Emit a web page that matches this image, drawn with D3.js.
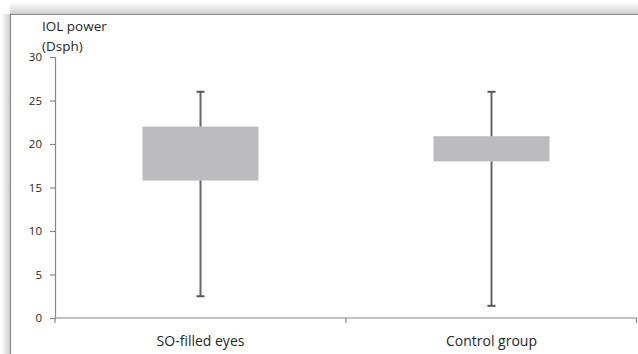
<!DOCTYPE html>
<html>
<head>
<meta charset="utf-8">
<script src="https://cdn.jsdelivr.net/npm/d3@7"></script>
<style>
  body { margin: 0; background: #fff; }
  svg text { font-family: "Open Sans", "DejaVu Sans", sans-serif; fill: #262626; }
</style>
</head>
<body>
<div id="chart"></div>
<script>
// groups and box-plot values
var groups = ["SO-filled eyes", "Control group"];
var whiskerMin = [2.5, 1.4];
var boxLow = [15.8, 18.0];
var boxHigh = [22.0, 20.9];
var whiskerMax = [26.0, 26.0];
var yTicks = [0, 5, 10, 15, 20, 25, 30];

var width = 638, height = 354;
var margin = {left: 55, right: 1, top: 57, bottom: 36};

var svg = d3.select("#chart").append("svg")
    .attr("width", width)
    .attr("height", height);

// drop shadow on top and left edges of the frame
var defs = svg.append("defs");
var gTop = defs.append("linearGradient").attr("id", "shTop")
    .attr("x1", 0).attr("y1", 0).attr("x2", 0).attr("y2", 1);
gTop.append("stop").attr("offset", 0).attr("stop-color", "#fff");
gTop.append("stop").attr("offset", 1).attr("stop-color", "#cfcfcf");
var gLeft = defs.append("linearGradient").attr("id", "shLeft")
    .attr("x1", 0).attr("y1", 0).attr("x2", 1).attr("y2", 0);
gLeft.append("stop").attr("offset", 0).attr("stop-color", "#fff");
gLeft.append("stop").attr("offset", 1).attr("stop-color", "#cfcfcf");

svg.append("rect").attr("x", 10).attr("y", 2).attr("width", width - 10).attr("height", 12)
    .attr("fill", "url(#shTop)");
svg.append("rect").attr("x", 1).attr("y", 14).attr("width", 9).attr("height", height - 14)
    .attr("fill", "url(#shLeft)");
svg.append("path")
    .attr("d", "M10.5," + height + "V14.5H" + width)
    .attr("fill", "none").attr("stroke", "#8a8a8a").attr("stroke-width", 1.2);

var x = d3.scaleBand().domain(groups).range([margin.left, width - margin.right]);
var y = d3.scaleLinear().domain([0, 30]).range([height - margin.bottom, margin.top]);

var boxW = 116, capW = 8;

// y axis
var yAxis = svg.append("g")
    .attr("transform", "translate(" + margin.left + ",0)")
    .call(d3.axisLeft(y).tickValues(yTicks).tickSize(5).tickPadding(8));
yAxis.select(".domain").attr("stroke", "#888").attr("stroke-width", 1.2);
yAxis.selectAll(".tick line").attr("stroke", "#888").attr("stroke-width", 1.2);
yAxis.selectAll(".tick text").style("font-size", "11.5px").attr("fill", "#262626");

// x axis: ticks at category boundaries
var xAxis = svg.append("g")
    .attr("transform", "translate(0," + y(0) + ")");
xAxis.append("line")
    .attr("x1", margin.left).attr("x2", width - margin.right)
    .attr("stroke", "#888").attr("stroke-width", 1.2);
var bounds = groups.map(function(g) { return x(g); }).concat([x(groups[groups.length - 1]) + x.bandwidth()]);
xAxis.selectAll(".xt").data(bounds).enter().append("line")
    .attr("x1", function(d) { return Math.min(d, width - 1.5); })
    .attr("x2", function(d) { return Math.min(d, width - 1.5); })
    .attr("y1", 0).attr("y2", 5)
    .attr("stroke", "#888").attr("stroke-width", 1.2);
xAxis.selectAll(".xl").data(groups).enter().append("text")
    .attr("x", function(d) { return x(d) + x.bandwidth() / 2; })
    .attr("y", 28)
    .attr("text-anchor", "middle")
    .style("font-size", "14px")
    .text(function(d) { return d; });

// y axis title
svg.append("text").attr("x", 42).attr("y", 31).style("font-size", "13.5px").text("IOL power");
svg.append("text").attr("x", 42).attr("y", 51).style("font-size", "13.5px").text("(Dsph)");

// whiskers and boxes
var boxes = svg.selectAll(".box").data(groups).enter().append("g").attr("class", "box");
var cx = function(d) { return x(d) + x.bandwidth() / 2; };

boxes.append("line")
    .attr("x1", cx).attr("x2", cx)
    .attr("y1", function(d, i) { return y(whiskerMax[i]); })
    .attr("y2", function(d, i) { return y(whiskerMin[i]); })
    .attr("stroke", "#666").attr("stroke-width", 2);
boxes.append("line")
    .attr("x1", function(d) { return cx(d) - capW / 2; })
    .attr("x2", function(d) { return cx(d) + capW / 2; })
    .attr("y1", function(d, i) { return y(whiskerMax[i]); })
    .attr("y2", function(d, i) { return y(whiskerMax[i]); })
    .attr("stroke", "#555").attr("stroke-width", 2);
boxes.append("line")
    .attr("x1", function(d) { return cx(d) - capW / 2; })
    .attr("x2", function(d) { return cx(d) + capW / 2; })
    .attr("y1", function(d, i) { return y(whiskerMin[i]); })
    .attr("y2", function(d, i) { return y(whiskerMin[i]); })
    .attr("stroke", "#555").attr("stroke-width", 2);
boxes.append("rect")
    .attr("x", function(d) { return cx(d) - boxW / 2; })
    .attr("width", boxW)
    .attr("y", function(d, i) { return y(boxHigh[i]); })
    .attr("height", function(d, i) { return y(boxLow[i]) - y(boxHigh[i]); })
    .attr("fill", "#bcbcbf");
</script>
</body>
</html>
